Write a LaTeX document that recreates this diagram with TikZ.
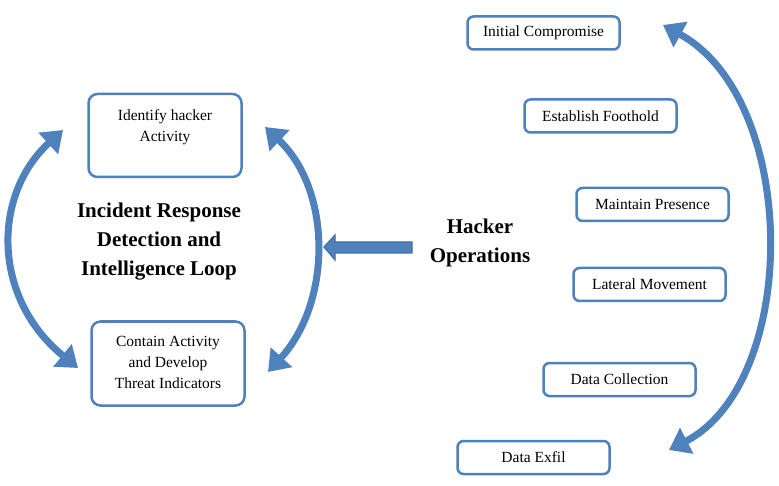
\documentclass[tikz,border=0pt]{standalone}
\usepackage{fontspec}
\setmainfont{Liberation Serif}
\usetikzlibrary{arrows.meta}
\definecolor{blu}{HTML}{4F81BD}
\definecolor{blud}{HTML}{41719C}
\begin{document}
\begin{tikzpicture}[x=1pt,y=-1pt,
 box/.style={draw=blu, line width=2.5pt, rounded corners=9pt, fill=white, inner sep=0pt},
 smallbox/.style={box, minimum width=152pt, minimum height=33pt, rounded corners=6pt},
 bigbox/.style={box, minimum width=153pt, minimum height=83pt},
 btxt/.style={font=\fontsize{15.5}{21}\selectfont, align=center, inner sep=0pt},
 title/.style={font=\fontsize{21}{29}\selectfont\bfseries, align=center, inner sep=0pt},
 looparc/.style={draw=blu, line width=7pt, {Triangle[length=20pt,width=28pt]}-{Triangle[length=20pt,width=28pt]}}]
\useasboundingbox (0,0) rectangle (779,486);
\fill[white] (0,0) rectangle (779,486);

% left loop boxes
\node[bigbox] (idbox) at (165,135.5) {};
\node[btxt] (idtxt) at (165,127.5) {Identify hacker\\Activity};
\node[bigbox, minimum height=84pt] (cobox) at (168,363.5) {};
\node[btxt] (cotxt) at (168,362.5) {Contain Activity\\and Develop\\Threat Indicators};

% titles
\node[title] (loop) at (159,242) {Incident Response\\Detection and\\Intelligence Loop};
\node[title] (hack) at (480,242.5) {Hacker\\Operations};

% hacker operation boxes
\node[smallbox, btxt] (ic) at (543.5,33) {Initial Compromise};
\node[smallbox, btxt] (ef) at (600.5,116) {Establish Foothold};
\node[smallbox, btxt] (mp) at (652.5,204.5) {Maintain Presence};
\node[smallbox, btxt] (lm) at (649.5,284.5) {Lateral Movement};
\node[smallbox, btxt] (dc) at (619.5,379.5) {Data Collection};
\node[smallbox, btxt] (de) at (533.5,457.5) {Data Exfil};

% loop arcs
\coordinate (la) at (63,130);
\coordinate (lb) at (78,368);
\coordinate (ra) at (265,127);
\coordinate (rb) at (268,372);
\coordinate (ha) at (663,25);
\coordinate (hb) at (669,450);
\draw[looparc] (la) .. controls (-8,195) and (-8,298) .. (lb);
\draw[looparc] (ra) .. controls (332,190) and (332,302) .. (rb);
\draw[looparc] (ha) .. controls (800,100) and (800,382) .. (hb);

% block arrow
\draw[fill=blu, draw=blud, line width=1.2pt, line join=miter]
  (324,247) -- (335,235) -- (335,242) -- (412,242) -- (412,253) -- (335,253) -- (335,260) -- cycle;
\end{tikzpicture}
\end{document}
